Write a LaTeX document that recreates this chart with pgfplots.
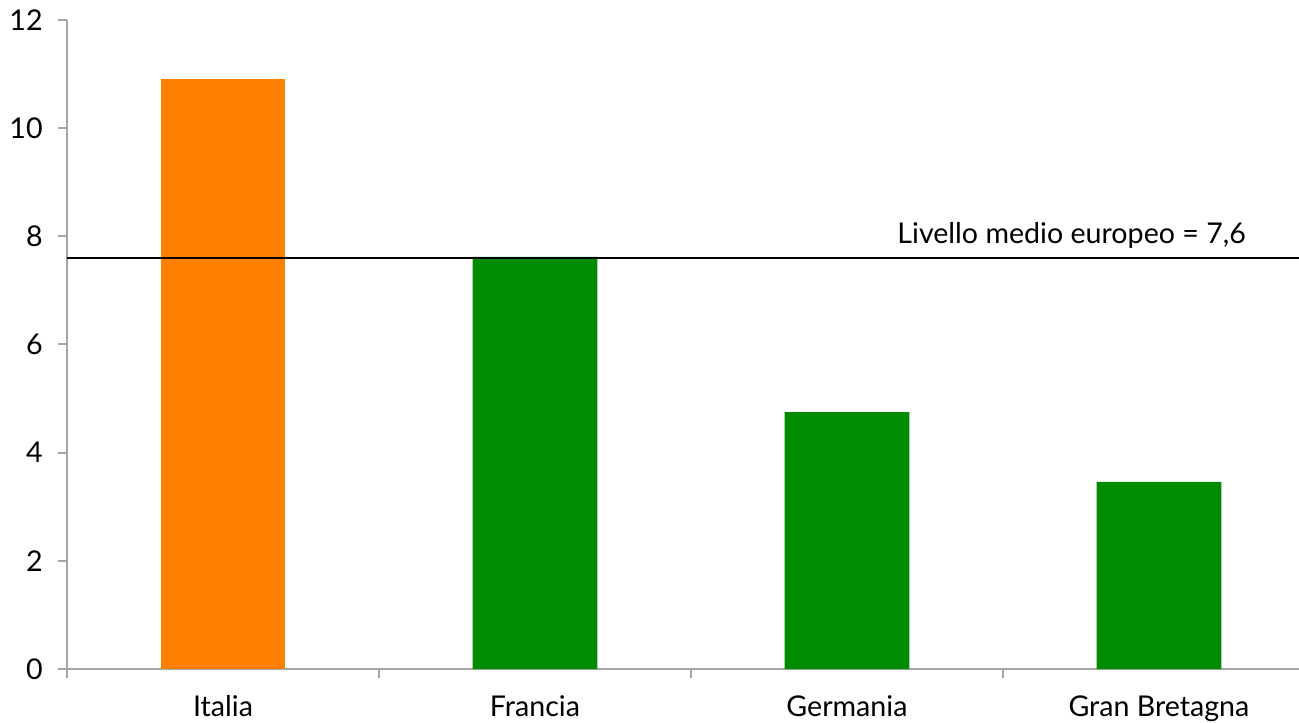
\documentclass[border=0pt]{standalone}
\usepackage{fontspec}
\setmainfont{Lato}
\usepackage{pgfplots}
\pgfplotsset{compat=1.18}
\definecolor{barorange}{HTML}{FF7F00}
\definecolor{bargreen}{HTML}{008C00}
\definecolor{axgray}{HTML}{A6A6A6}
\begin{document}
\fontsize{14}{16}\selectfont
\begin{tikzpicture}
\useasboundingbox (-33.5pt,-26.5pt) rectangle (616pt,334.5pt);
\begin{axis}[
  scale only axis,
  width=616pt, height=324.5pt,
  xmin=-0.5, xmax=3.449,
  ymin=0, ymax=12,
  axis lines*=left,
  axis line style={axgray, line width=1pt},
  ytick={0,2,...,12},
  xtick={0,1,2,3},
  xticklabels={Italia,Francia,Germania,Gran Bretagna},
  minor xtick={-0.5,0.5,1.5,2.5},
  tick align=outside,
  major x tick style={draw=none},
  minor x tick style={axgray, line width=1pt},
  minor tick length=4.5pt,
  major tick length=4.5pt,
  y tick style={axgray, line width=1pt},
  /pgf/number format/assume math mode=true,
  ticklabel style={font=\fontsize{14.3}{16}\selectfont},
  yticklabel style={xshift=-2.8pt},
  xticklabel style={yshift=-4pt},
  ybar, bar width=0.4, bar shift=0pt,
  clip=false,
]
\addplot[fill=barorange, draw=none] coordinates {(0,10.91)};
\addplot[fill=bargreen, draw=none] coordinates {(1,7.62) (2,4.75) (3,3.46)};
\addplot[sharp plot, black, line width=1pt] coordinates {(-0.5,7.6) (3.449,7.6)};
\node[anchor=base east, inner sep=0pt, font=\fontsize{14.3}{16}\selectfont] at (axis cs:3.28,7.6) [yshift=7pt] {Livello medio europeo = 7,6};
\end{axis}
\end{tikzpicture}
\end{document}
